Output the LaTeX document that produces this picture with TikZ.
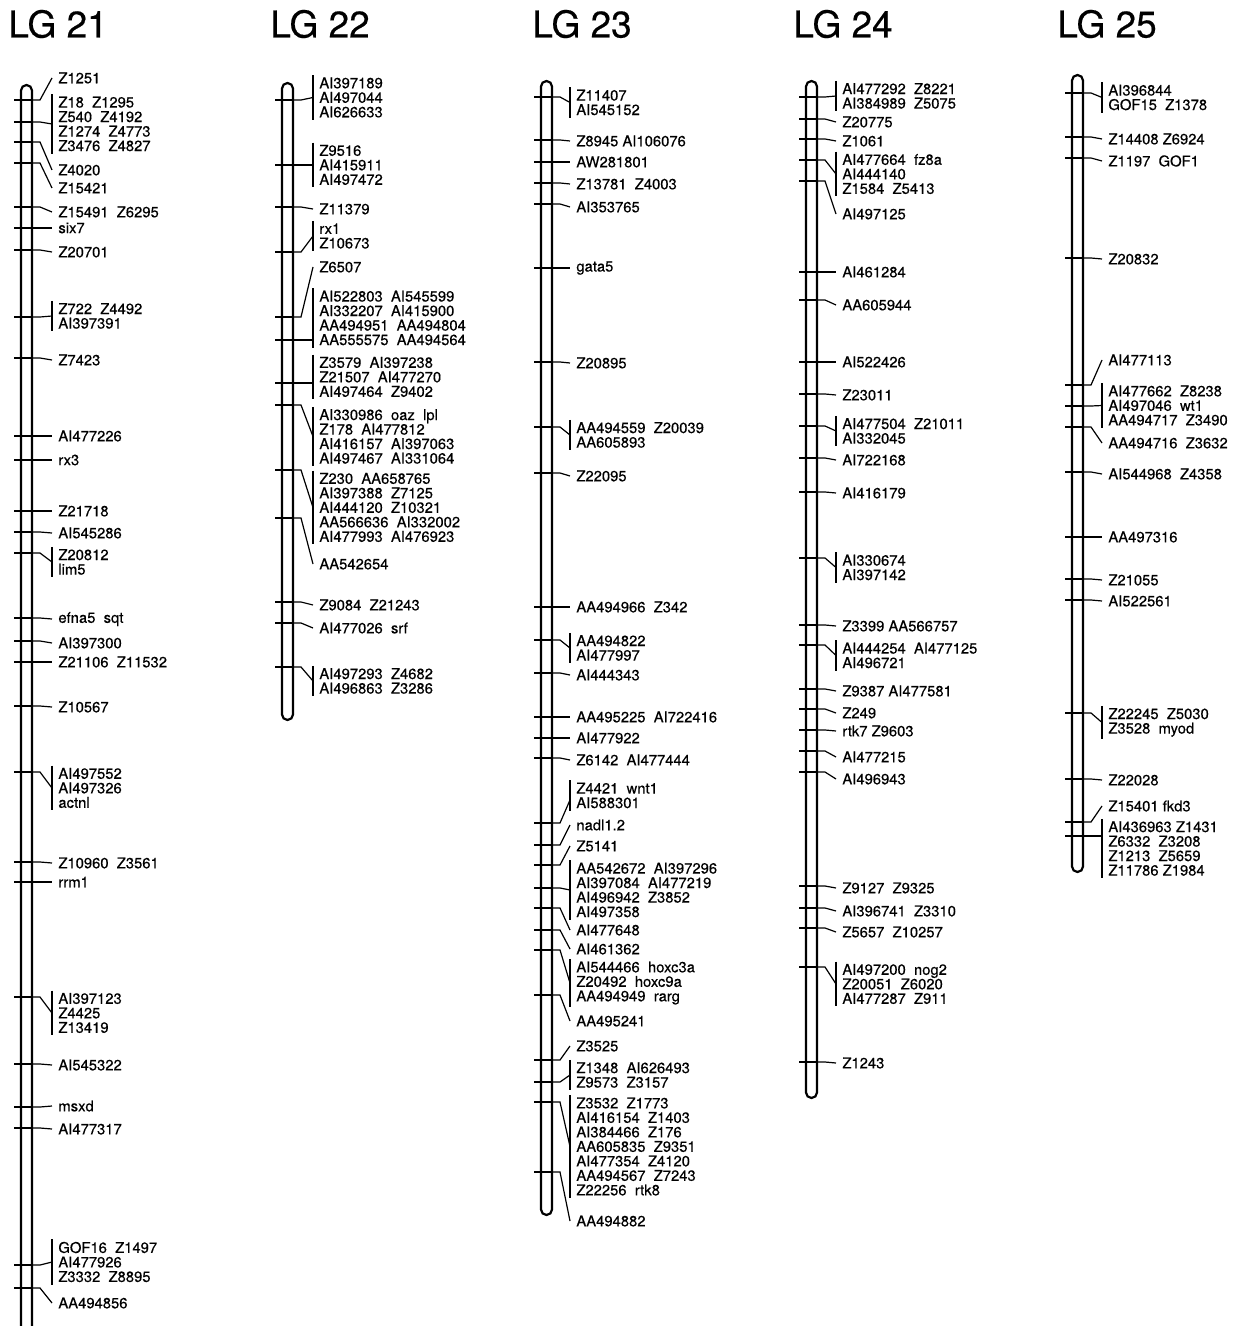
\documentclass[tikz,border=0pt]{standalone}
\usepackage{fontspec}
\setmainfont{TeX Gyre Heros}[FakeBold=0.4]
\usepackage{tikz}

\begin{document}
\begin{tikzpicture}[x=0.5pt,y=0.5pt,yscale=-1,xscale=1,
  tube/.style={line width=1.1pt,rounded corners=2.75pt},
  tick/.style={line width=1.1pt},
  conn/.style={line width=0.6pt},
  brk/.style={line width=0.6pt},
  lbl/.style={anchor=west,inner xsep=3pt,inner ysep=1pt,align=left,font=\fontsize{7.4}{7.25}\selectfont},
  ttl/.style={anchor=west,inner sep=0pt,font=\fontsize{18.5}{20}\selectfont}]
\useasboundingbox (0,0) rectangle (1238,1326);

% Text Node
\draw (8,24) node [ttl] (title21) {LG 21};
\draw (270,24) node [ttl] (title22) {LG 22};
\draw (532,24) node [ttl] (title23) {LG 23};
\draw (793,24) node [ttl] (title24) {LG 24};
\draw (1057,24) node [ttl] (title25) {LG 25};

%Shape: Tube LG 21
\draw [tube] (21,85) rectangle (32,1360);
%Straight Lines
\draw [tick] (14,100) -- (32,100) coordinate (t21a);
\draw [tick] (14,122) -- (32,122) coordinate (t21b);
\draw [tick] (14,142) -- (32,142) coordinate (t21c);
\draw [tick] (14,163) -- (32,163) coordinate (t21d);
\draw [tick] (14,207) -- (32,207) coordinate (t21e);
\draw [tick] (14,228) -- (32,228) coordinate (t21f);
\draw [tick] (14,250) -- (32,250) coordinate (t21g);
\draw [tick] (14,317) -- (32,317) coordinate (t21h);
\draw [tick] (14,358) -- (32,358) coordinate (t21i);
\draw [tick] (14,436) -- (32,436) coordinate (t21j);
\draw [tick] (14,460) -- (32,460) coordinate (t21k);
\draw [tick] (14,511) -- (32,511) coordinate (t21l);
\draw [tick] (14,532) -- (32,532) coordinate (t21m);
\draw [tick] (14,553) -- (32,553) coordinate (t21n);
\draw [tick] (14,618) -- (32,618) coordinate (t21o);
\draw [tick] (14,641) -- (32,641) coordinate (t21p);
\draw [tick] (14,662) -- (32,662) coordinate (t21q);
\draw [tick] (14,706) -- (32,706) coordinate (t21r);
\draw [tick] (14,772) -- (32,772) coordinate (t21s);
\draw [tick] (14,862) -- (32,862) coordinate (t21t);
\draw [tick] (14,882) -- (32,882) coordinate (t21u);
\draw [tick] (14,997) -- (32,997) coordinate (t21v);
\draw [tick] (14,1064) -- (32,1064) coordinate (t21w);
\draw [tick] (14,1107) -- (32,1107) coordinate (t21x);
\draw [tick] (14,1128) -- (32,1128) coordinate (t21y);
\draw [tick] (14,1265) -- (32,1265) coordinate (t21z);
\draw [tick] (14,1288) -- (32,1288) coordinate (t21aa);
% Text Node
\draw (52,78) node [lbl] (l21a) {Z1251};
\draw (52,124) node [lbl] (l21b) {Z18~~Z1295\\Z540~~Z4192\\Z1274~~Z4773\\Z3476~~Z4827};
\draw (52,170) node [lbl] (l21c) {Z4020};
\draw (52,188) node [lbl] (l21d) {Z15421};
\draw (52,212) node [lbl] (l21e) {Z15491~~Z6295};
\draw (52,228) node [lbl] (l21f) {six7};
\draw (52,252) node [lbl] (l21g) {Z20701};
\draw (52,316) node [lbl] (l21h) {Z722~~Z4492\\AI397391};
\draw (52,360) node [lbl] (l21i) {Z7423};
\draw (52,436) node [lbl] (l21j) {AI477226};
\draw (52,460) node [lbl] (l21k) {rx3};
\draw (52,511) node [lbl] (l21l) {Z21718};
\draw (52,533) node [lbl] (l21m) {AI545286};
\draw (52,562) node [lbl] (l21n) {Z20812\\lim5};
\draw (52,619) node [lbl] (l21o) {efna5~~sqt};
\draw (52,643) node [lbl] (l21p) {AI397300};
\draw (52,662) node [lbl] (l21q) {Z21106~~Z11532};
\draw (52,707) node [lbl] (l21r) {Z10567};
\draw (52,788) node [lbl] (l21s) {AI497552\\AI497326\\actnl};
\draw (52,863) node [lbl] (l21t) {Z10960~~Z3561};
\draw (52,882) node [lbl] (l21u) {rrm1};
\draw (52,1013) node [lbl] (l21v) {AI397123\\Z4425\\Z13419};
\draw (52,1065) node [lbl] (l21w) {AI545322};
\draw (52,1106) node [lbl] (l21x) {msxd};
\draw (52,1129) node [lbl] (l21y) {AI477317};
\draw (52,1262) node [lbl] (l21z) {GOF16~~Z1497\\AI477926\\Z3332~~Z8895};
\draw (52,1303) node [lbl] (l21aa) {AA494856};
\draw [brk] (l21b.north west) -- (l21b.south west);
\draw [brk] (l21h.north west) -- (l21h.south west);
\draw [brk] (l21n.north west) -- (l21n.south west);
\draw [brk] (l21s.north west) -- (l21s.south west);
\draw [brk] (l21v.north west) -- (l21v.south west);
\draw [brk] (l21z.north west) -- (l21z.south west);
%Curve Lines
\draw [conn] (t21a) -- ++(8,0) -- (l21a.west);
\draw [conn] (t21b) -- ++(8,0) -- (l21b.west);
\draw [conn] (t21c) -- ++(8,0) -- (l21c.west);
\draw [conn] (t21d) -- ++(8,0) -- (l21d.west);
\draw [conn] (t21e) -- ++(8,0) -- (l21e.west);
\draw [conn] (t21f) -- ++(8,0) -- (l21f.west);
\draw [conn] (t21g) -- ++(8,0) -- (l21g.west);
\draw [conn] (t21h) -- ++(8,0) -- (l21h.west);
\draw [conn] (t21i) -- ++(8,0) -- (l21i.west);
\draw [conn] (t21j) -- ++(8,0) -- (l21j.west);
\draw [conn] (t21k) -- ++(8,0) -- (l21k.west);
\draw [conn] (t21l) -- ++(8,0) -- (l21l.west);
\draw [conn] (t21m) -- ++(8,0) -- (l21m.west);
\draw [conn] (t21n) -- ++(8,0) -- (l21n.west);
\draw [conn] (t21o) -- ++(8,0) -- (l21o.west);
\draw [conn] (t21p) -- ++(8,0) -- (l21p.west);
\draw [conn] (t21q) -- ++(8,0) -- (l21q.west);
\draw [conn] (t21r) -- ++(8,0) -- (l21r.west);
\draw [conn] (t21s) -- ++(8,0) -- (l21s.west);
\draw [conn] (t21t) -- ++(8,0) -- (l21t.west);
\draw [conn] (t21u) -- ++(8,0) -- (l21u.west);
\draw [conn] (t21v) -- ++(8,0) -- (l21v.west);
\draw [conn] (t21w) -- ++(8,0) -- (l21w.west);
\draw [conn] (t21x) -- ++(8,0) -- (l21x.west);
\draw [conn] (t21y) -- ++(8,0) -- (l21y.west);
\draw [conn] (t21z) -- ++(8,0) -- (l21z.west);
\draw [conn] (t21aa) -- ++(8,0) -- (l21aa.west);

%Shape: Tube LG 22
\draw [tube] (282,83) rectangle (293,720);
%Straight Lines
\draw [tick] (275,100) -- (293,100) coordinate (t22a);
\draw [tick] (275,165) -- (293,165) coordinate (t22b);
\draw [tick] (275,207) -- (293,207) coordinate (t22c);
\draw [tick] (275,252) -- (293,252) coordinate (t22d);
\draw [tick] (275,317) -- (293,317) coordinate (t22e);
\draw [tick] (275,340) -- (293,340) coordinate (t22f);
\draw [tick] (275,383) -- (293,383) coordinate (t22g);
\draw [tick] (275,405) -- (293,405) coordinate (t22h);
\draw [tick] (275,470) -- (293,470) coordinate (t22i);
\draw [tick] (275,518) -- (293,518) coordinate (t22j);
\draw [tick] (275,602) -- (293,602) coordinate (t22k);
\draw [tick] (275,623) -- (293,623) coordinate (t22l);
\draw [tick] (275,667) -- (293,667) coordinate (t22m);
% Text Node
\draw (313,97.5) node [lbl] (l22a) {AI397189\\AI497044\\AI626633};
\draw (313,165) node [lbl] (l22b) {Z9516\\AI415911\\AI497472};
\draw (313,209) node [lbl] (l22c) {Z11379};
\draw (313,236) node [lbl] (l22d) {rx1\\Z10673};
\draw (313,267) node [lbl] (l22e) {Z6507};
\draw (313,318) node [lbl] (l22f) {AI522803~~AI545599\\AI332207~~AI415900\\AA494951~~AA494804\\AA555575~~AA494564};
\draw (313,377) node [lbl] (l22g) {Z3579~~AI397238\\Z21507~~AI477270\\AI497464~~Z9402};
\draw (313,436.5) node [lbl] (l22h) {AI330986~~oaz~~lpl\\Z178~~AI477812\\AI416157~~AI397063\\AI497467~~AI331064};
\draw (313,507.5) node [lbl] (l22i) {Z230~~AA658765\\AI397388~~Z7125\\AI444120~~Z10321\\AA566636~~AI332002\\AI477993~~AI476923};
\draw (313,564) node [lbl] (l22j) {AA542654};
\draw (313,605) node [lbl] (l22k) {Z9084~~Z21243};
\draw (313,628) node [lbl] (l22l) {AI477026~~srf};
\draw (313,681) node [lbl] (l22m) {AI497293~~Z4682\\AI496863~~Z3286};
\draw [brk] (l22a.north west) -- (l22a.south west);
\draw [brk] (l22b.north west) -- (l22b.south west);
\draw [brk] (l22d.north west) -- (l22d.south west);
\draw [brk] (l22f.north west) -- (l22f.south west);
\draw [brk] (l22g.north west) -- (l22g.south west);
\draw [brk] (l22h.north west) -- (l22h.south west);
\draw [brk] (l22i.north west) -- (l22i.south west);
\draw [brk] (l22m.north west) -- (l22m.south west);
\coordinate (e22f) at (313,340);
\coordinate (e22g) at (313,383);
%Curve Lines
\draw [conn] (t22a) -- ++(8,0) -- (l22a.west);
\draw [conn] (t22b) -- ++(8,0) -- (l22b.west);
\draw [conn] (t22c) -- ++(8,0) -- (l22c.west);
\draw [conn] (t22d) -- ++(8,0) -- (l22d.west);
\draw [conn] (t22e) -- ++(8,0) -- (l22e.west);
\draw [conn] (t22f) -- ++(8,0) -- (e22f);
\draw [conn] (t22g) -- ++(8,0) -- (e22g);
\draw [conn] (t22h) -- ++(8,0) -- (l22h.west);
\draw [conn] (t22i) -- ++(8,0) -- (l22i.west);
\draw [conn] (t22j) -- ++(8,0) -- (l22j.west);
\draw [conn] (t22k) -- ++(8,0) -- (l22k.west);
\draw [conn] (t22l) -- ++(8,0) -- (l22l.west);
\draw [conn] (t22m) -- ++(8,0) -- (l22m.west);

%Shape: Tube LG 23
\draw [tube] (541,81) rectangle (552,1215);
%Straight Lines
\draw [tick] (534,97) -- (552,97) coordinate (t23a);
\draw [tick] (534,140) -- (552,140) coordinate (t23b);
\draw [tick] (534,162) -- (552,162) coordinate (t23c);
\draw [tick] (534,183) -- (552,183) coordinate (t23d);
\draw [tick] (534,204) -- (552,204) coordinate (t23e);
\draw [tick] (534,268) -- (552,268) coordinate (t23f);
\draw [tick] (534,362) -- (552,362) coordinate (t23g);
\draw [tick] (534,427) -- (552,427) coordinate (t23h);
\draw [tick] (534,473) -- (552,473) coordinate (t23i);
\draw [tick] (534,607) -- (552,607) coordinate (t23j);
\draw [tick] (534,640) -- (552,640) coordinate (t23k);
\draw [tick] (534,673) -- (552,673) coordinate (t23l);
\draw [tick] (534,717) -- (552,717) coordinate (t23m);
\draw [tick] (534,738) -- (552,738) coordinate (t23n);
\draw [tick] (534,758) -- (552,758) coordinate (t23o);
\draw [tick] (534,823) -- (552,823) coordinate (t23p);
\draw [tick] (534,845) -- (552,845) coordinate (t23q);
\draw [tick] (534,865) -- (552,865) coordinate (t23r);
\draw [tick] (534,888) -- (552,888) coordinate (t23s);
\draw [tick] (534,908) -- (552,908) coordinate (t23t);
\draw [tick] (534,930) -- (552,930) coordinate (t23u);
\draw [tick] (534,950) -- (552,950) coordinate (t23v);
\draw [tick] (534,995) -- (552,995) coordinate (t23w);
\draw [tick] (534,1060) -- (552,1060) coordinate (t23x);
\draw [tick] (534,1082) -- (552,1082) coordinate (t23y);
\draw [tick] (534,1102) -- (552,1102) coordinate (t23z);
\draw [tick] (534,1172) -- (552,1172) coordinate (t23aa);
% Text Node
\draw (570,102.5) node [lbl] (l23a) {Z11407\\AI545152};
\draw (570,141) node [lbl] (l23b) {Z8945~AI106076};
\draw (570,162) node [lbl] (l23c) {AW281801};
\draw (570,184) node [lbl] (l23d) {Z13781~~Z4003};
\draw (570,207) node [lbl] (l23e) {AI353765};
\draw (570,268) node [lbl] (l23f) {gata5};
\draw (570,363) node [lbl] (l23g) {Z20895};
\draw (570,435) node [lbl] (l23h) {AA494559~~Z20039\\AA605893};
\draw (570,476) node [lbl] (l23i) {Z22095};
\draw (570,607) node [lbl] (l23j) {AA494966~~Z342};
\draw (570,648) node [lbl] (l23k) {AA494822\\AI477997};
\draw (570,675) node [lbl] (l23l) {AI444343};
\draw (570,717) node [lbl] (l23m) {AA495225~~AI722416};
\draw (570,738) node [lbl] (l23n) {AI477922};
\draw (570,760) node [lbl] (l23o) {Z6142~~AI477444};
\draw (570,795.5) node [lbl] (l23p) {Z4421~~wnt1\\AI588301};
\draw (570,825) node [lbl] (l23q) {nadl1.2};
\draw (570,846) node [lbl] (l23r) {Z5141};
\draw (570,890) node [lbl] (l23s) {AA542672~~AI397296\\AI397084~~AI477219\\AI496942~~Z3852\\AI497358};
\draw (570,930) node [lbl] (l23t) {AI477648};
\draw (570,949) node [lbl] (l23u) {AI461362};
\draw (570,983) node [lbl] (l23v) {AI544466~~hoxc3a\\Z20492~~hoxc9a\\AA494949~~rarg};
\draw (570,1021) node [lbl] (l23w) {AA495241};
\draw (570,1046) node [lbl] (l23x) {Z3525};
\draw (570,1075) node [lbl] (l23y) {Z1348~~AI626493\\Z9573~~Z3157};
\draw (570,1146.5) node [lbl] (l23z) {Z3532~~Z1773\\AI416154~~Z1403\\AI384466~~Z176\\AA605835~~Z9351\\AI477354~~Z4120\\AA494567~~Z7243\\Z22256~~rtk8};
\draw (570,1221) node [lbl] (l23aa) {AA494882};
\draw [brk] (l23a.north west) -- (l23a.south west);
\draw [brk] (l23h.north west) -- (l23h.south west);
\draw [brk] (l23k.north west) -- (l23k.south west);
\draw [brk] (l23p.north west) -- (l23p.south west);
\draw [brk] (l23s.north west) -- (l23s.south west);
\draw [brk] (l23v.north west) -- (l23v.south west);
\draw [brk] (l23y.north west) -- (l23y.south west);
\draw [brk] (l23z.north west) -- (l23z.south west);
\coordinate (e23p) at (570,800);
%Curve Lines
\draw [conn] (t23a) -- ++(8,0) -- (l23a.west);
\draw [conn] (t23b) -- ++(8,0) -- (l23b.west);
\draw [conn] (t23c) -- ++(8,0) -- (l23c.west);
\draw [conn] (t23d) -- ++(8,0) -- (l23d.west);
\draw [conn] (t23e) -- ++(8,0) -- (l23e.west);
\draw [conn] (t23f) -- ++(8,0) -- (l23f.west);
\draw [conn] (t23g) -- ++(8,0) -- (l23g.west);
\draw [conn] (t23h) -- ++(8,0) -- (l23h.west);
\draw [conn] (t23i) -- ++(8,0) -- (l23i.west);
\draw [conn] (t23j) -- ++(8,0) -- (l23j.west);
\draw [conn] (t23k) -- ++(8,0) -- (l23k.west);
\draw [conn] (t23l) -- ++(8,0) -- (l23l.west);
\draw [conn] (t23m) -- ++(8,0) -- (l23m.west);
\draw [conn] (t23n) -- ++(8,0) -- (l23n.west);
\draw [conn] (t23o) -- ++(8,0) -- (l23o.west);
\draw [conn] (t23p) -- ++(8,0) -- (e23p);
\draw [conn] (t23q) -- ++(8,0) -- (l23q.west);
\draw [conn] (t23r) -- ++(8,0) -- (l23r.west);
\draw [conn] (t23s) -- ++(8,0) -- (l23s.west);
\draw [conn] (t23t) -- ++(8,0) -- (l23t.west);
\draw [conn] (t23u) -- ++(8,0) -- (l23u.west);
\draw [conn] (t23v) -- ++(8,0) -- (l23v.west);
\draw [conn] (t23w) -- ++(8,0) -- (l23w.west);
\draw [conn] (t23x) -- ++(8,0) -- (l23x.west);
\draw [conn] (t23y) -- ++(8,0) -- (l23y.west);
\draw [conn] (t23z) -- ++(8,0) -- (l23z.west);
\draw [conn] (t23aa) -- ++(8,0) -- (l23aa.west);

%Shape: Tube LG 24
\draw [tube] (806,81) rectangle (817,1098);
%Straight Lines
\draw [tick] (799,97) -- (817,97) coordinate (t24a);
\draw [tick] (799,119) -- (817,119) coordinate (t24b);
\draw [tick] (799,139) -- (817,139) coordinate (t24c);
\draw [tick] (799,160) -- (817,160) coordinate (t24d);
\draw [tick] (799,181) -- (817,181) coordinate (t24e);
\draw [tick] (799,272) -- (817,272) coordinate (t24f);
\draw [tick] (799,300) -- (817,300) coordinate (t24g);
\draw [tick] (799,362) -- (817,362) coordinate (t24h);
\draw [tick] (799,394) -- (817,394) coordinate (t24i);
\draw [tick] (799,426) -- (817,426) coordinate (t24j);
\draw [tick] (799,458) -- (817,458) coordinate (t24k);
\draw [tick] (799,492) -- (817,492) coordinate (t24l);
\draw [tick] (799,558) -- (817,558) coordinate (t24m);
\draw [tick] (799,625) -- (817,625) coordinate (t24n);
\draw [tick] (799,645) -- (817,645) coordinate (t24o);
\draw [tick] (799,689) -- (817,689) coordinate (t24p);
\draw [tick] (799,709) -- (817,709) coordinate (t24q);
\draw [tick] (799,730) -- (817,730) coordinate (t24r);
\draw [tick] (799,751) -- (817,751) coordinate (t24s);
\draw [tick] (799,772) -- (817,772) coordinate (t24t);
\draw [tick] (799,886) -- (817,886) coordinate (t24u);
\draw [tick] (799,908) -- (817,908) coordinate (t24v);
\draw [tick] (799,928) -- (817,928) coordinate (t24w);
\draw [tick] (799,967) -- (817,967) coordinate (t24x);
\draw [tick] (799,1062) -- (817,1062) coordinate (t24y);
% Text Node
\draw (836,96) node [lbl] (l24a) {AI477292~~Z8221\\AI384989~~Z5075};
\draw (836,122) node [lbl] (l24b) {Z20775};
\draw (836,141) node [lbl] (l24c) {Z1061};
\draw (836,174) node [lbl] (l24d) {AI477664~~fz8a\\AI444140\\Z1584~~Z5413};
\draw (836,214) node [lbl] (l24e) {AI497125};
\draw (836,272) node [lbl] (l24f) {AI461284};
\draw (836,305) node [lbl] (l24g) {AA605944};
\draw (836,362) node [lbl] (l24h) {AI522426};
\draw (836,395) node [lbl] (l24i) {Z23011};
\draw (836,431) node [lbl] (l24j) {AI477504~~Z21011\\AI332045};
\draw (836,460) node [lbl] (l24k) {AI722168};
\draw (836,493) node [lbl] (l24l) {AI416179};
\draw (836,567.5) node [lbl] (l24m) {AI330674\\AI397142};
\draw (836,626) node [lbl] (l24n) {Z3399~AA566757};
\draw (836,655.5) node [lbl] (l24o) {AI444254~~AI477125\\AI496721};
\draw (836,691) node [lbl] (l24p) {Z9387~AI477581};
\draw (836,713) node [lbl] (l24q) {Z249};
\draw (836,731) node [lbl] (l24r) {rtk7~Z9603};
\draw (836,757) node [lbl] (l24s) {AI477215};
\draw (836,779) node [lbl] (l24t) {AI496943};
\draw (836,888) node [lbl] (l24u) {Z9127~~Z9325};
\draw (836,911) node [lbl] (l24v) {AI396741~~Z3310};
\draw (836,932) node [lbl] (l24w) {Z5657~~Z10257};
\draw (836,984) node [lbl] (l24x) {AI497200~~nog2\\Z20051~~Z6020\\AI477287~~Z911};
\draw (836,1063) node [lbl] (l24y) {Z1243};
\draw [brk] (l24a.north west) -- (l24a.south west);
\draw [brk] (l24d.north west) -- (l24d.south west);
\draw [brk] (l24j.north west) -- (l24j.south west);
\draw [brk] (l24m.north west) -- (l24m.south west);
\draw [brk] (l24o.north west) -- (l24o.south west);
\draw [brk] (l24x.north west) -- (l24x.south west);
%Curve Lines
\draw [conn] (t24a) -- ++(8,0) -- (l24a.west);
\draw [conn] (t24b) -- ++(8,0) -- (l24b.west);
\draw [conn] (t24c) -- ++(8,0) -- (l24c.west);
\draw [conn] (t24d) -- ++(8,0) -- (l24d.west);
\draw [conn] (t24e) -- ++(8,0) -- (l24e.west);
\draw [conn] (t24f) -- ++(8,0) -- (l24f.west);
\draw [conn] (t24g) -- ++(8,0) -- (l24g.west);
\draw [conn] (t24h) -- ++(8,0) -- (l24h.west);
\draw [conn] (t24i) -- ++(8,0) -- (l24i.west);
\draw [conn] (t24j) -- ++(8,0) -- (l24j.west);
\draw [conn] (t24k) -- ++(8,0) -- (l24k.west);
\draw [conn] (t24l) -- ++(8,0) -- (l24l.west);
\draw [conn] (t24m) -- ++(8,0) -- (l24m.west);
\draw [conn] (t24n) -- ++(8,0) -- (l24n.west);
\draw [conn] (t24o) -- ++(8,0) -- (l24o.west);
\draw [conn] (t24p) -- ++(8,0) -- (l24p.west);
\draw [conn] (t24q) -- ++(8,0) -- (l24q.west);
\draw [conn] (t24r) -- ++(8,0) -- (l24r.west);
\draw [conn] (t24s) -- ++(8,0) -- (l24s.west);
\draw [conn] (t24t) -- ++(8,0) -- (l24t.west);
\draw [conn] (t24u) -- ++(8,0) -- (l24u.west);
\draw [conn] (t24v) -- ++(8,0) -- (l24v.west);
\draw [conn] (t24w) -- ++(8,0) -- (l24w.west);
\draw [conn] (t24x) -- ++(8,0) -- (l24x.west);
\draw [conn] (t24y) -- ++(8,0) -- (l24y.west);

%Shape: Tube LG 25
\draw [tube] (1072,75) rectangle (1083,872);
%Straight Lines
\draw [tick] (1065,93) -- (1083,93) coordinate (t25a);
\draw [tick] (1065,137) -- (1083,137) coordinate (t25b);
\draw [tick] (1065,158) -- (1083,158) coordinate (t25c);
\draw [tick] (1065,258) -- (1083,258) coordinate (t25d);
\draw [tick] (1065,385) -- (1083,385) coordinate (t25e);
\draw [tick] (1065,406) -- (1083,406) coordinate (t25f);
\draw [tick] (1065,427) -- (1083,427) coordinate (t25g);
\draw [tick] (1065,472) -- (1083,472) coordinate (t25h);
\draw [tick] (1065,537) -- (1083,537) coordinate (t25i);
\draw [tick] (1065,579) -- (1083,579) coordinate (t25j);
\draw [tick] (1065,600) -- (1083,600) coordinate (t25k);
\draw [tick] (1065,713) -- (1083,713) coordinate (t25l);
\draw [tick] (1065,779) -- (1083,779) coordinate (t25m);
\draw [tick] (1065,822) -- (1083,822) coordinate (t25n);
\draw [tick] (1065,836) -- (1083,836) coordinate (t25o);
% Text Node
\draw (1102,97.5) node [lbl] (l25a) {AI396844\\GOF15~~Z1378};
\draw (1102,139) node [lbl] (l25b) {Z14408~Z6924};
\draw (1102,161) node [lbl] (l25c) {Z1197~~GOF1};
\draw (1102,259) node [lbl] (l25d) {Z20832};
\draw (1102,360) node [lbl] (l25e) {AI477113};
\draw (1102,405.5) node [lbl] (l25f) {AI477662~~Z8238\\AI497046~~wt1\\AA494717~~Z3490};
\draw (1102,443) node [lbl] (l25g) {AA494716~~Z3632};
\draw (1102,474) node [lbl] (l25h) {AI544968~~Z4358};
\draw (1102,537) node [lbl] (l25i) {AA497316};
\draw (1102,580) node [lbl] (l25j) {Z21055};
\draw (1102,601) node [lbl] (l25k) {AI522561};
\draw (1102,722.5) node [lbl] (l25l) {Z22245~~Z5030\\Z3528~~myod};
\draw (1102,780) node [lbl] (l25m) {Z22028};
\draw (1102,806) node [lbl] (l25n) {Z15401~fkd3};
\draw (1102,848.5) node [lbl] (l25o) {AI436963~Z1431\\Z6332~~Z3208\\Z1213~~Z5659\\Z11786~Z1984};
\draw [brk] (l25a.north west) -- (l25a.south west);
\draw [brk] (l25f.north west) -- (l25f.south west);
\draw [brk] (l25l.north west) -- (l25l.south west);
\draw [brk] (l25o.north west) -- (l25o.south west);
\coordinate (e25o) at (1102,836);
%Curve Lines
\draw [conn] (t25a) -- ++(8,0) -- (l25a.west);
\draw [conn] (t25b) -- ++(8,0) -- (l25b.west);
\draw [conn] (t25c) -- ++(8,0) -- (l25c.west);
\draw [conn] (t25d) -- ++(8,0) -- (l25d.west);
\draw [conn] (t25e) -- ++(8,0) -- (l25e.west);
\draw [conn] (t25f) -- ++(8,0) -- (l25f.west);
\draw [conn] (t25g) -- ++(8,0) -- (l25g.west);
\draw [conn] (t25h) -- ++(8,0) -- (l25h.west);
\draw [conn] (t25i) -- ++(8,0) -- (l25i.west);
\draw [conn] (t25j) -- ++(8,0) -- (l25j.west);
\draw [conn] (t25k) -- ++(8,0) -- (l25k.west);
\draw [conn] (t25l) -- ++(8,0) -- (l25l.west);
\draw [conn] (t25m) -- ++(8,0) -- (l25m.west);
\draw [conn] (t25n) -- ++(8,0) -- (l25n.west);
\draw [conn] (t25o) -- ++(8,0) -- (e25o);

\end{tikzpicture}
\end{document}
